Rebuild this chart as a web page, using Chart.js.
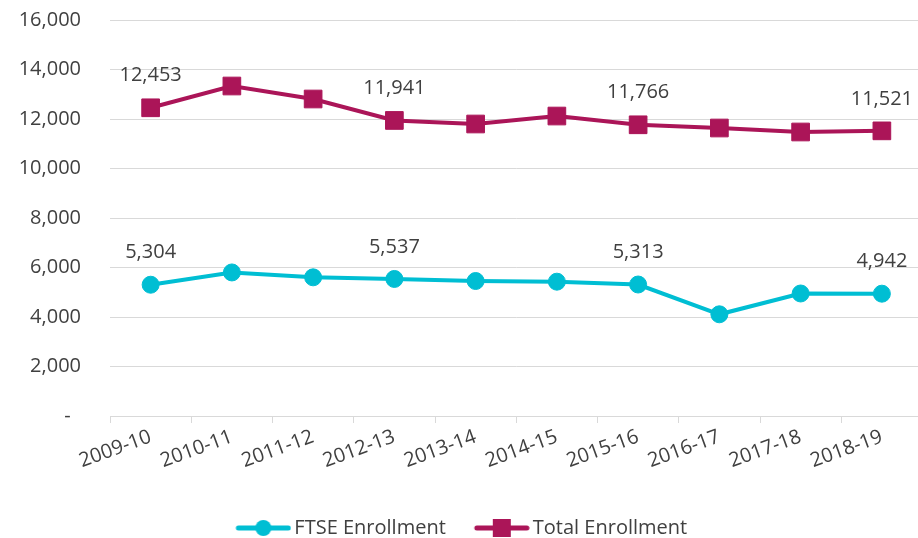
<!DOCTYPE html>
<html>
<head>
<meta charset="utf-8">
<script src="https://cdn.jsdelivr.net/npm/chart.js@4/dist/chart.umd.min.js"></script>
<style>
  html, body { margin: 0; padding: 0; overflow: hidden; background: #fff; }
  #wrap { width: 924px; height: 538px; }
</style>
</head>
<body>
<div id="wrap"><canvas id="c" width="924" height="538"></canvas></div>
<script>
const categories = ['2009-10','2010-11','2011-12','2012-13','2013-14','2014-15','2015-16','2016-17','2017-18','2018-19'];
const ftseEnrollment = [5304, 5800, 5603, 5537, 5454, 5427, 5313, 4109, 4950, 4942];
const totalEnrollment = [12453, 13333, 12808, 11941, 11798, 12120, 11766, 11636, 11475, 11521];
const labeledIndices = [0, 3, 6, 9];
const yTicks = [0, 2000, 4000, 6000, 8000, 10000, 12000, 14000, 16000];

const FONT = '"Open Sans", sans-serif';
const TEXT = '#404040';
const TEAL = '#00BED3';
const MAGENTA = '#AB1558';
const GRID = '#D9D9D9';

function legendIcon(color, shape) {
  const cv = document.createElement('canvas');
  cv.width = 63; cv.height = 20;
  const g = cv.getContext('2d');
  g.strokeStyle = color; g.fillStyle = color;
  g.lineWidth = 5; g.lineCap = 'round';
  g.beginPath(); g.moveTo(10, 10); g.lineTo(60, 10); g.stroke();
  if (shape === 'circle') { g.beginPath(); g.arc(35, 10, 8, 0, Math.PI * 2); g.fill(); }
  else { g.fillRect(26, 1, 18, 18); }
  return cv;
}

const dataLabelPlugin = {
  id: 'dataLabels',
  afterDatasetsDraw(chart) {
    const ctx = chart.ctx;
    ctx.save();
    ctx.font = '20px ' + FONT;
    ctx.fillStyle = TEXT;
    ctx.textAlign = 'center';
    ctx.textBaseline = 'middle';
    chart.data.datasets.forEach((ds, di) => {
      const meta = chart.getDatasetMeta(di);
      labeledIndices.forEach(i => {
        const p = meta.data[i];
        ctx.fillText(ds.data[i].toLocaleString('en-US'), p.x, p.y - 32);
      });
    });
    ctx.restore();
  }
};

new Chart(document.getElementById('c'), {
  type: 'line',
  data: {
    labels: categories,
    datasets: [
      { label: 'FTSE Enrollment', data: ftseEnrollment, borderColor: TEAL, backgroundColor: TEAL,
        borderWidth: 4, pointStyle: 'circle', pointRadius: 8.5, pointHoverRadius: 8.5, pointBorderWidth: 1, tension: 0 },
      { label: 'Total Enrollment', data: totalEnrollment, borderColor: MAGENTA, backgroundColor: MAGENTA,
        borderWidth: 4, pointStyle: 'rect', pointRadius: 12.5, pointHoverRadius: 12.5, pointBorderWidth: 1, tension: 0 }
    ]
  },
  options: {
    responsive: false,
    animation: false,
    layout: { autoPadding: false, padding: { top: 20, right: 1.5, bottom: -10, left: 0 } },
    plugins: {
      tooltip: { enabled: false },
      legend: {
        position: 'bottom',
        labels: {
          font: { family: FONT, size: 20 },
          color: TEXT,
          usePointStyle: true,
          pointStyleWidth: 49,
          padding: 28,
          generateLabels(chart) {
            return chart.data.datasets.map((ds, i) => ({
              text: ds.label,
              fillStyle: ds.backgroundColor,
              strokeStyle: ds.borderColor,
              lineWidth: 0,
              pointStyle: legendIcon(ds.borderColor, i === 0 ? 'circle' : 'rect'),
              fontColor: TEXT,
              hidden: false,
              datasetIndex: i
            }));
          }
        }
      }
    },
    scales: {
      x: {
        offset: true,
        grid: { display: true, drawOnChartArea: false, drawTicks: true, tickLength: 7, color: GRID, lineWidth: 1, offset: true },
        border: { display: true, color: GRID, width: 1 },
        ticks: { font: { family: FONT, size: 20 }, color: TEXT, minRotation: 20, maxRotation: 20, padding: 2, autoSkip: false },
        afterFit(s) { s.height = 74; s.paddingLeft = 0; s.paddingRight = 0; }
      },
      y: {
        min: 0, max: 16000,
        afterBuildTicks(s) { s.ticks = yTicks.map(v => ({ value: v })); },
        grid: { color: GRID, lineWidth: 1, drawTicks: false },
        border: { display: false },
        ticks: {
          font: { family: FONT, size: 20 }, color: TEXT, padding: 29,
          callback: v => v === 0 ? '-  ' : v.toLocaleString('en-US')
        },
        afterFit(s) { s.width = 110; s.paddingTop = 0; s.paddingBottom = 0; }
      }
    }
  },
  plugins: [dataLabelPlugin]
});
</script>
</body>
</html>
